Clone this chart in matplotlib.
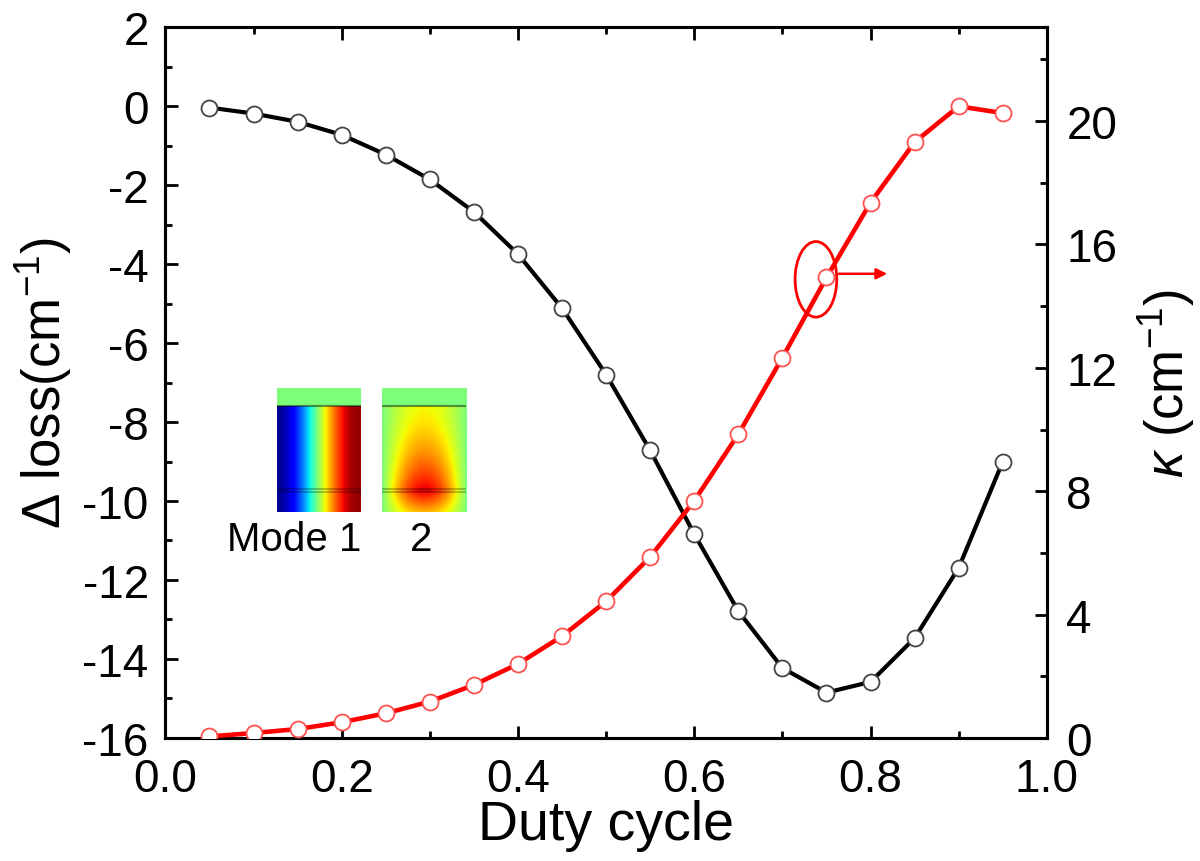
import matplotlib

matplotlib.use("Agg")
import matplotlib.pyplot as plt
import numpy as np
from matplotlib.patches import Ellipse
from matplotlib.ticker import MultipleLocator

plt.rcParams["font.family"] = ["Liberation Sans", "DejaVu Sans"]
plt.rcParams["mathtext.fontset"] = "custom"
plt.rcParams["mathtext.rm"] = "Liberation Sans"
plt.rcParams["mathtext.it"] = "Liberation Sans:italic"
plt.rcParams["axes.unicode_minus"] = False

# duty cycle sweep
duty = [0.05, 0.10, 0.15, 0.20, 0.25, 0.30, 0.35, 0.40, 0.45, 0.50,
        0.55, 0.60, 0.65, 0.70, 0.75, 0.80, 0.85, 0.90, 0.95]

# loss difference between modes (cm^-1), left axis
delta_loss = [-0.04, -0.19, -0.40, -0.73, -1.23, -1.86, -2.68, -3.75, -5.12, -6.80,
              -8.72, -10.84, -12.79, -14.23, -14.85, -14.58, -13.47, -11.69, -9.00]

# coupling coefficient kappa (cm^-1), right axis
kappa = [0.05, 0.16, 0.29, 0.51, 0.80, 1.18, 1.72, 2.40, 3.30, 4.43,
         5.87, 7.69, 9.85, 12.33, 14.93, 17.36, 19.32, 20.48, 20.26]

fig = plt.figure(figsize=(12, 8.62), dpi=100)
ax = fig.add_axes([0.1378, 0.1427, 0.8724 - 0.1378, 0.9675 - 0.1427])
ax2 = ax.twinx()

ax.plot(duty, delta_loss, color="black", lw=3, marker="o", ms=11.5,
        mfc="white", mec="#444444", mew=1.3, zorder=3)
ax2.plot(duty, kappa, color="red", lw=3.3, marker="o", ms=11.5,
         mfc="white", mec="#ff5050", mew=1.3, zorder=3)

ax.set_xlim(0, 1.0)
ax.set_ylim(-16, 2)
ax2.set_ylim(0, 23.05)

ax.xaxis.set_major_locator(MultipleLocator(0.2))
ax.xaxis.set_minor_locator(MultipleLocator(0.1))
ax.yaxis.set_major_locator(MultipleLocator(2))
ax.yaxis.set_minor_locator(MultipleLocator(1))
ax2.yaxis.set_major_locator(MultipleLocator(4))
ax2.yaxis.set_minor_locator(MultipleLocator(2))
ax.xaxis.set_major_formatter(plt.FormatStrFormatter("%.1f"))

for a in (ax, ax2):
    for s in a.spines.values():
        s.set_linewidth(2.2)
ax.tick_params(which="both", direction="in", top=True, right=False, width=2,
               labelsize=33, pad=12)
ax.tick_params(which="major", length=9)
ax.tick_params(which="minor", length=5)
ax.tick_params(axis="x", pad=14)
ax2.tick_params(which="both", direction="in", width=2, labelsize=33, pad=14)
ax2.tick_params(which="major", length=9)
ax2.tick_params(which="minor", length=5)

ax.set_xlabel("Duty cycle", fontsize=40, labelpad=-2)
ax.set_ylabel(r"$\Delta$ loss(cm$^{-1}$)", fontsize=38, labelpad=6)
ax2.set_ylabel(r"$\kappa$ (cm$^{-1}$)", fontsize=38, labelpad=14)

# red marker pointing to the right axis
ax2.add_patch(Ellipse((0.738, 14.87), 0.0473, 2.45, fill=False, ec="red", lw=2, zorder=4))
ax2.annotate("", xy=(0.822, 15.05), xytext=(0.761, 15.05),
             arrowprops=dict(arrowstyle="-|>", color="red", lw=1.8, mutation_scale=16))

# inset field maps of the two modes
rows, cols = 124, 84
r = np.arange(rows)[:, None]
u = np.linspace(0, 1, cols)[None, :]
clad, iface = 18, 102

m1 = 0.5 + 0.48 * np.sin(np.pi * (u - 0.48)) * np.ones((rows, 1))
m1[:clad, :] = 0.5

g = np.where(r <= iface, 0.35 + 0.65 * ((r - clad) / (iface - clad)).clip(0, 1) ** 1.5,
             1 - 0.5 * (r - iface) / (rows - iface))
m2 = 0.5 + 0.42 * np.cos(np.pi * (u - 0.5)) * g
m2[:clad, :] = 0.5

for left, img in ((277 / 1200, m1), (382 / 1200, m2)):
    iax = fig.add_axes([left, 1 - 513 / 862, 84 / 1200, 124 / 862])
    iax.imshow(img, cmap="jet", vmin=0, vmax=1, aspect="auto",
               interpolation="bilinear")
    iax.axhline(clad - 0.5, color="black", alpha=0.45, lw=1.5)
    iax.axhline(iface - 1.5, color="black", alpha=0.3, lw=1.2)
    iax.axhline(iface + 1.5, color="black", alpha=0.3, lw=1.2)
    iax.axis("off")

fig.text(294 / 1200, 1 - 540 / 862, "Mode 1", fontsize=29, ha="center", va="center")
fig.text(421 / 1200, 1 - 540 / 862, "2", fontsize=29, ha="center", va="center")

fig.savefig("out.png", dpi=100)
